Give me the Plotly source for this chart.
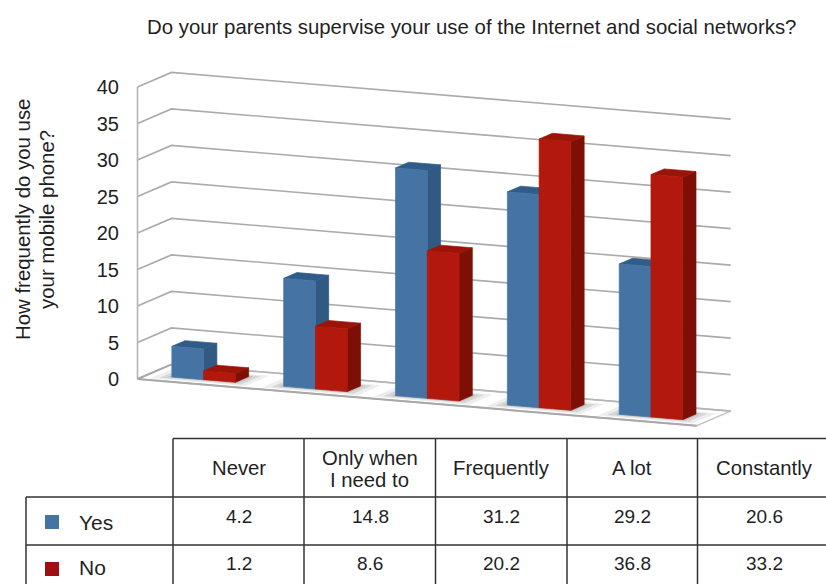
import plotly.graph_objects as go

categories = [["Never"], ["Only when", "I need to"], ["Frequently"], ["A lot"], ["Constantly"]]
yes_values = [4.2, 14.8, 31.2, 29.2, 20.6]
no_values = [1.2, 8.6, 20.2, 36.8, 33.2]
value_ticks = [0, 5, 10, 15, 20, 25, 30, 35, 40]

W, H = 826, 584
FONT = "Liberation Sans"
TEXT = "#1f1f1f"

# Oblique view: the floor falls to the right and depth runs up and to the right.
X_PER_CAT = 111.84
Y_PER_VALUE = 7.3
ZERO_X, ZERO_Y = 137.5, 379
PLOT_LEFT = 120
TILT = 1.279      # value units dropped per category
DEPTH_X = 0.304   # categories moved per unit of depth
DEPTH_Y = 2.0     # value units raised per unit of depth
BAR_W = 0.284
BAR_CENTER = 0.506
BAR_D0, BAR_D1 = 0.28, 0.67
N = len(categories)
TOP = value_ticks[-1]


def project(c, d, v):
    return c + d * DEPTH_X, v - c * TILT + d * DEPTH_Y


def polygon(points, fill, line=None, width=0.7, opacity=1.0):
    xy = [project(*p) for p in points]
    xy.append(xy[0])
    return go.Scatter(
        x=[p[0] for p in xy], y=[p[1] for p in xy],
        mode="lines", fill="toself", fillcolor=fill, opacity=opacity,
        line=dict(color=line or fill, width=width),
        hoverinfo="skip", showlegend=False,
    )


def path(points, color, width):
    xy = [project(*p) for p in points]
    return go.Scatter(
        x=[p[0] for p in xy], y=[p[1] for p in xy], mode="lines",
        line=dict(color=color, width=width),
        hoverinfo="skip", showlegend=False,
    )


def bar(c0, value, front, side, top):
    c1 = c0 + BAR_W
    d0, d1 = BAR_D0, BAR_D1
    return [
        polygon([(c1, d0, 0), (c1, d1, 0), (c1, d1, value), (c1, d0, value)], side),
        polygon([(c0, d0, value), (c1, d0, value), (c1, d1, value), (c0, d1, value)], top),
        polygon([(c0, d0, 0), (c1, d0, 0), (c1, d0, value), (c0, d0, value)], front),
    ]


traces = []

# Floor
traces.append(polygon([(0, 0, 0), (N, 0, 0), (N, 1, 0), (0, 1, 0)], "#ffffff", "#c4c4c4", 1.5))

# Grid lines on the left and back walls
for tick in value_ticks[1:]:
    traces.append(path([(0, 0, tick), (0, 1, tick), (N, 1, tick)], "#ababab", 1.6))
traces.append(path([(0, 1, 0), (N, 1, 0)], "#b4b4b4", 1.6))
traces.append(path([(0, 0, 0), (0, 0, TOP)], "#b4b4b4", 1.6))
traces.append(path([(0, 1, 0), (0, 0, 0), (N, 0, 0)], "#a8a8a8", 2))

# Bars with their soft floor shadows
for i in range(N):
    c0 = i + BAR_CENTER - BAR_W
    c1 = i + BAR_CENTER + BAR_W
    for grow, alpha in ((0.14, 0.12), (0.08, 0.18), (0.03, 0.22)):
        traces.append(polygon(
            [(c0 - grow, BAR_D0 - grow * 1.2, 0), (c1 + grow, BAR_D0 - grow * 1.2, 0),
             (c1 + grow, BAR_D1 + grow, 0), (c0 - grow, BAR_D1 + grow, 0)],
            "rgba(110,110,110,%.2f)" % alpha, width=0))
    traces += bar(c0, yes_values[i], "#4574a4", "#305a82", "#2f5c88")
    traces += bar(i + BAR_CENTER, no_values[i], "#b2190c", "#7d0f05", "#9a1408")

fig = go.Figure(traces)


def px(x):
    return x / W


def py(y):
    return 1 - y / H


def rule(x0, y0, x1, y1):
    return dict(type="line", xref="paper", yref="paper",
                x0=px(x0), y0=py(y0), x1=px(x1), y1=py(y1),
                line=dict(color="#333333", width=1.5))


def label(x, y, text, size=20.3, **kw):
    return dict(xref="paper", yref="paper", x=px(x), y=py(y), text=text, showarrow=False,
                font=dict(family=FONT, size=size, color=TEXT),
                xanchor=kw.pop("xanchor", "center"), yanchor="middle", **kw)


# Data table under the chart; the last column runs past the right edge of the page
col_edges = [173, 304, 435.5, 567, 697.5, 831]
row_edges = [438.5, 497, 545, 584]
shapes = [
    rule(173, row_edges[0], 826, row_edges[0]),
    rule(26, row_edges[1], 826, row_edges[1]),
    rule(26, row_edges[2], 826, row_edges[2]),
    rule(26, row_edges[1], 26, 584),
    rule(173, row_edges[0], 173, 584),
]
shapes += [rule(x, row_edges[0], x, 584) for x in col_edges[1:-1]]
shapes.append(dict(type="rect", xref="paper", yref="paper", x0=px(45), x1=px(59),
                   y0=py(529), y1=py(515), fillcolor="#4574a4", line=dict(width=0)))
shapes.append(dict(type="rect", xref="paper", yref="paper", x0=px(45), x1=px(59),
                   y0=py(576), y1=py(562), fillcolor="#a00d12", line=dict(width=0)))

annotations = [
    label(471.5, 27, "Do your parents supervise your use of the Internet and social networks?", size=20.4),
    label(23, 220, "How frequently do you use", size=20.4, textangle=-90),
    label(47, 220, "your mobile phone?", size=20.4, textangle=-90),
    label(77, 522, "Yes", size=21, xanchor="left"),
    label(77, 567.5, "No", size=21, xanchor="left"),
]
for i, lines in enumerate(categories):
    cx = (col_edges[i] + col_edges[i + 1]) / 2
    if len(lines) == 1:
        annotations.append(label(cx, 468, lines[0]))
    else:
        annotations.append(label(cx, 457.5, lines[0]))
        annotations.append(label(cx, 479.5, lines[1]))
    annotations.append(label(cx + 0.5, 516, "%.1f" % yes_values[i], size=19))
    annotations.append(label(cx + 0.5, 563, "%.1f" % no_values[i], size=19))

fig.update_layout(
    width=W, height=H,
    margin=dict(l=0, r=0, t=0, b=0),
    paper_bgcolor="#ffffff", plot_bgcolor="#ffffff",
    showlegend=False,
    shapes=shapes, annotations=annotations,
    xaxis=dict(
        domain=[PLOT_LEFT / W, 1],
        range=[(PLOT_LEFT - ZERO_X) / X_PER_CAT, (W - ZERO_X) / X_PER_CAT],
        visible=False, fixedrange=True,
    ),
    yaxis=dict(
        domain=[0, 1],
        range=[(ZERO_Y - H) / Y_PER_VALUE, ZERO_Y / Y_PER_VALUE],
        tickmode="array", tickvals=value_ticks, ticktext=[str(t) for t in value_ticks],
        tickfont=dict(family=FONT, size=20, color=TEXT),
        showgrid=False, zeroline=False, showline=False, ticks="", fixedrange=True,
    ),
)

fig.write_html("out.html", config={"displayModeBar": False})
